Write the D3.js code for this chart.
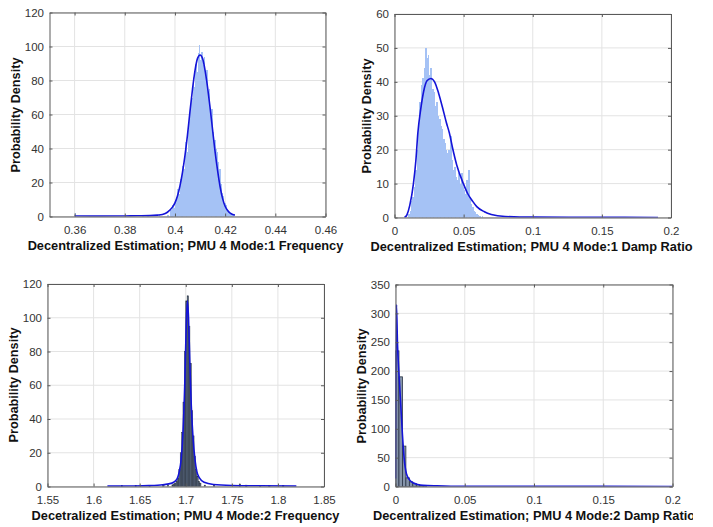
<!DOCTYPE html>
<html>
<head>
<meta charset="utf-8">
<script src="https://cdn.jsdelivr.net/npm/d3@7"></script>
<style>
  html, body { margin: 0; padding: 0; background: #fff; }
  svg { display: block; }
</style>
</head>
<body>
<svg id="chart" width="713" height="527"></svg>
<script>
// ---------------- DATA ----------------
// Panel 1: Mode 1 Frequency (bin left edge, density), bin width 0.0005
const freq1BinWidth = 0.0005;
const freq1Bins = [
  [0.3600, 2], [0.3870, 1], [0.3890, 0.8], [0.3935, 0.8], [0.3970, 1],
  [0.3980, 4], [0.3985, 2], [0.3990, 7], [0.3995, 5], [0.4000, 10],
  [0.4005, 9], [0.4010, 16], [0.4015, 13], [0.4020, 22], [0.4025, 19],
  [0.4030, 30], [0.4035, 28], [0.4040, 44], [0.4045, 38], [0.4050, 52],
  [0.4055, 58], [0.4060, 64], [0.4065, 70], [0.4070, 82], [0.4075, 76],
  [0.4080, 90], [0.4085, 85], [0.4090, 96], [0.4095, 101], [0.4100, 92],
  [0.4105, 97], [0.4110, 89], [0.4115, 94], [0.4120, 83], [0.4125, 86],
  [0.4130, 72], [0.4135, 75], [0.4140, 60], [0.4145, 63], [0.4150, 50],
  [0.4155, 45], [0.4160, 40], [0.4165, 38], [0.4170, 32], [0.4175, 28],
  [0.4180, 19], [0.4185, 14], [0.4190, 12], [0.4195, 8], [0.4200, 7],
  [0.4205, 4], [0.4210, 3], [0.4215, 2], [0.4220, 2], [0.4225, 1], [0.4230, 1]
];
const freq1Curve = [
  [0.360, 0.3], [0.370, 0.2], [0.380, 0.3], [0.385, 0.4], [0.390, 0.5],
  [0.393, 0.8], [0.395, 1.2], [0.397, 2.5], [0.399, 5.5], [0.400, 8],
  [0.401, 12], [0.402, 18], [0.403, 26], [0.404, 36], [0.405, 48],
  [0.406, 62], [0.407, 75], [0.408, 86], [0.409, 93], [0.410, 95],
  [0.411, 93], [0.412, 86], [0.413, 76], [0.414, 64], [0.415, 51],
  [0.416, 38], [0.417, 27], [0.418, 17.5], [0.419, 10.5], [0.420, 6],
  [0.421, 3.5], [0.422, 2], [0.423, 1.2], [0.4239, 0.8]
];
const freq1XTicks = [0.36, 0.38, 0.40, 0.42, 0.44, 0.46];
const freq1YTicks = [0, 20, 40, 60, 80, 100, 120];

// Panel 2: Mode 1 Damp Ratio, bin width 0.001
const damp1BinWidth = 0.001;
const damp1Bins = [
  [0.010, 1], [0.011, 2], [0.012, 5], [0.013, 6], [0.014, 9], [0.015, 14],
  [0.016, 20], [0.017, 27], [0.018, 34], [0.019, 39], [0.020, 41], [0.021, 44],
  [0.022, 50], [0.023, 47], [0.024, 48], [0.025, 42], [0.026, 44], [0.027, 38],
  [0.028, 37], [0.029, 33], [0.030, 34], [0.031, 30], [0.032, 29], [0.033, 27],
  [0.034, 26], [0.035, 23], [0.036, 22], [0.037, 20], [0.038, 19], [0.039, 20],
  [0.040, 24], [0.041, 17], [0.042, 14], [0.043, 15], [0.044, 12], [0.045, 11],
  [0.046, 13], [0.047, 10], [0.048, 13], [0.049, 9], [0.050, 8], [0.051, 7],
  [0.052, 11], [0.053, 14], [0.054, 6], [0.055, 4], [0.056, 3], [0.057, 2],
  [0.058, 1.5], [0.059, 1], [0.060, 0.8], [0.061, 0.5], [0.063, 0.3]
];
const damp1Curve = [
  [0.0072, 0], [0.009, 0.8], [0.011, 3.5], [0.0137, 10], [0.0155, 17],
  [0.0169, 25], [0.019, 32], [0.021, 37], [0.0235, 40.3], [0.0263, 41],
  [0.029, 40], [0.032, 36.5], [0.035, 32], [0.0375, 28], [0.0397, 24.9],
  [0.042, 20.5], [0.045, 15.5], [0.0498, 10], [0.053, 7], [0.0565, 4.8],
  [0.0595, 3.2], [0.065, 1.7], [0.070, 0.9], [0.080, 0.3], [0.100, 0.1],
  [0.150, 0.05], [0.1906, 0]
];
const damp1XTicks = [0, 0.05, 0.1, 0.15, 0.2];
const damp1YTicks = [0, 10, 20, 30, 40, 50, 60];

// Panel 3: Mode 2 Frequency, bin width 0.0015
const freq2BinWidth = 0.0015;
const freq2Bins = [
  [1.6300, 0.5], [1.6450, 0.5], [1.6600, 0.6], [1.6750, 0.8], [1.6800, 1],
  [1.6850, 1], [1.6865, 1.5], [1.6880, 2], [1.6895, 3], [1.6910, 5],
  [1.6925, 10], [1.6940, 20], [1.6955, 32], [1.6970, 50], [1.6985, 80],
  [1.7000, 110], [1.7015, 113], [1.7030, 95], [1.7045, 73], [1.7060, 45],
  [1.7075, 30], [1.7090, 18], [1.7105, 10], [1.7120, 6], [1.7135, 3],
  [1.7150, 2], [1.7200, 0.8], [1.7300, 0.6], [1.7580, 1.5], [1.7650, 0.8],
  [1.7800, 0.6], [1.7900, 0.6], [1.8050, 0.6]
];
const freq2Curve = [
  [1.615, 0.2], [1.640, 0.3], [1.660, 0.5], [1.675, 1], [1.685, 2],
  [1.690, 4], [1.693, 9], [1.695, 16], [1.697, 32], [1.699, 62],
  [1.7005, 95], [1.7018, 110], [1.703, 100], [1.7045, 72], [1.706, 48],
  [1.708, 28], [1.710, 16], [1.712, 9], [1.715, 5], [1.720, 2.5],
  [1.730, 1.2], [1.750, 0.6], [1.780, 0.4], [1.820, 0.2]
];
const freq2XTicks = [1.55, 1.6, 1.65, 1.7, 1.75, 1.8, 1.85];
const freq2YTicks = [0, 20, 40, 60, 80, 100, 120];

// Panel 4: Mode 2 Damp Ratio, bin width 0.0025
const damp2BinWidth = 0.0025;
const damp2Bins = [
  [0.0000, 235], [0.0025, 190], [0.0050, 70], [0.0075, 15], [0.0100, 8],
  [0.0125, 5], [0.0150, 3], [0.0175, 1.5], [0.0200, 1]
];
const damp2Curve = [
  [0.0000, 14], [0.0003, 200], [0.0007, 315], [0.0014, 250], [0.0025, 195],
  [0.0036, 150], [0.0050, 90], [0.0062, 50], [0.0079, 22], [0.0100, 12],
  [0.0130, 6], [0.0160, 3.5], [0.0200, 2], [0.0300, 1], [0.0400, 0.5],
  [0.0600, 0.3], [0.1000, 0.2], [0.2000, 0.1]
];
const damp2XTicks = [0, 0.05, 0.1, 0.15, 0.2];
const damp2YTicks = [0, 50, 100, 150, 200, 250, 300, 350];

const xLabels = [
  "Decentralized Estimation; PMU 4 Mode:1 Frequency",
  "Decentralized Estimation; PMU 4 Mode:1 Damp Ratio",
  "Decetralized Estimation; PMU 4 Mode:2 Frequency",
  "Decentralized Estimation; PMU 4 Mode:2 Damp Ratio"
];
const yLabel = "Probability Density";

// ---------------- DRAW ----------------
const svg = d3.select("#chart");
svg.append("rect").attr("width", 713).attr("height", 527).attr("fill", "#fff");
const FONT = "'Liberation Sans', Arial, Helvetica, sans-serif";

const panels = [
  { bins: freq1Bins, bw: freq1BinWidth, curve: freq1Curve, xTicks: freq1XTicks, yTicks: freq1YTicks,
    xDom: [0.35, 0.46], yDom: [0, 120], box: [49.5, 325.5, 12.5, 216.5],
    fill: "#a5c2f5", stroke: "none", sw: 0, pad: 0.4, label: xLabels[0], yl: [16, 115], xl: [185.5, 245.7] },
  { bins: damp1Bins, bw: damp1BinWidth, curve: damp1Curve, xTicks: damp1XTicks, yTicks: damp1YTicks,
    xDom: [0, 0.2], yDom: [0, 60], box: [394.5, 671, 14, 217.5],
    fill: "#a5c2f5", stroke: "none", sw: 0, pad: 0.4, label: xLabels[1], yl: [367, 116], xl: [531.5, 246.7] },
  { bins: freq2Bins, bw: freq2BinWidth, curve: freq2Curve, xTicks: freq2XTicks, yTicks: freq2YTicks,
    xDom: [1.55, 1.85], yDom: [0, 120], box: [47.5, 324, 284, 486.5],
    fill: "#56647a", stroke: "#26303e", sw: 0.5, pad: 0, label: xLabels[2], yl: [14, 385], xl: [185.5, 515] },
  { bins: damp2Bins, bw: damp2BinWidth, curve: damp2Curve, xTicks: damp2XTicks, yTicks: damp2YTicks,
    xDom: [0, 0.2], yDom: [0, 350], box: [395.5, 672.5, 284.5, 486.5],
    fill: "#8594a9", stroke: "#2a3444", sw: 0.8, pad: 0, label: xLabels[3], yl: [362.3, 386], xl: [534, 515], clipLabel: 693 }
];

const fmt = d => String(+(+d).toFixed(4));
const defs = svg.append("defs");

panels.forEach((p, i) => {
  const [L, R, T, B] = p.box;
  const x = d3.scaleLinear().domain(p.xDom).range([L, R]);
  const y = d3.scaleLinear().domain(p.yDom).range([B, T]);
  const g = svg.append("g");

  defs.append("clipPath").attr("id", "clip" + i)
    .append("rect").attr("x", L).attr("y", T).attr("width", R - L).attr("height", B - T);

  // grid
  g.append("g").selectAll("line").data(p.xTicks).join("line")
    .attr("x1", d => x(d)).attr("x2", d => x(d)).attr("y1", T).attr("y2", B)
    .attr("stroke", "#e3e3e3").attr("stroke-width", 1);
  g.append("g").selectAll("line").data(p.yTicks).join("line")
    .attr("y1", d => y(d)).attr("y2", d => y(d)).attr("x1", L).attr("x2", R)
    .attr("stroke", "#e3e3e3").attr("stroke-width", 1);

  const plot = g.append("g").attr("clip-path", `url(#clip${i})`);
  // bars
  plot.selectAll("rect").data(p.bins).join("rect")
    .attr("x", d => x(d[0]))
    .attr("width", d => Math.max(0.5, x(d[0] + p.bw) - x(d[0])) + p.pad)
    .attr("y", d => y(d[1]))
    .attr("height", d => y(0) - y(d[1]))
    .attr("fill", p.fill)
    .attr("stroke", p.stroke)
    .attr("stroke-width", p.sw)
    .attr("shape-rendering", p.pad ? "crispEdges" : null);
  // curve
  const line = d3.line().x(d => x(d[0])).y(d => y(d[1])).curve(d3.curveMonotoneX);
  plot.append("path").datum(p.curve).attr("d", line)
    .attr("fill", "none").attr("stroke", "#1414d8").attr("stroke-width", 1.6);

  // axes
  const axisColor = "#5a5a5a";
  const bottom = g.append("g").attr("transform", `translate(0,${B})`)
    .call(d3.axisBottom(x).tickValues(p.xTicks).tickFormat(fmt).tickSize(-3).tickSizeOuter(0).tickPadding(9));
  const top = g.append("g").attr("transform", `translate(0,${T})`)
    .call(d3.axisTop(x).tickValues(p.xTicks).tickFormat("").tickSize(-3).tickSizeOuter(0));
  const left = g.append("g").attr("transform", `translate(${L},0)`)
    .call(d3.axisLeft(y).tickValues(p.yTicks).tickFormat(fmt).tickSize(-3).tickSizeOuter(0).tickPadding(5.5));
  const right = g.append("g").attr("transform", `translate(${R},0)`)
    .call(d3.axisRight(y).tickValues(p.yTicks).tickFormat("").tickSize(-3).tickSizeOuter(0));
  [bottom, top, left, right].forEach(a => {
    a.select(".domain").attr("stroke", axisColor).attr("stroke-width", 1);
    a.selectAll(".tick line").attr("stroke", axisColor);
    a.selectAll("text").attr("fill", "#333").style("font-family", FONT).style("font-size", "11.5px");
  });

  // y label
  g.append("text")
    .attr("transform", `translate(${p.yl[0]},${p.yl[1]}) rotate(-90)`)
    .attr("text-anchor", "middle").attr("dominant-baseline", "central")
    .style("font-family", FONT).style("font-size", "12.7px").style("font-weight", "bold")
    .attr("fill", "#111").text(yLabel);

  // x label
  const xl = g.append("text")
    .attr("x", p.xl[0]).attr("y", p.xl[1])
    .attr("text-anchor", "middle").attr("dominant-baseline", "central")
    .style("font-family", FONT).style("font-size", "12.8px").style("font-weight", "bold")
    .attr("fill", "#111").text(p.label);
  if (p.clipLabel) {
    defs.append("clipPath").attr("id", "lclip" + i)
      .append("rect").attr("x", 0).attr("y", 0).attr("width", p.clipLabel).attr("height", 527);
    xl.attr("clip-path", `url(#lclip${i})`);
  }
});
</script>
</body>
</html>
